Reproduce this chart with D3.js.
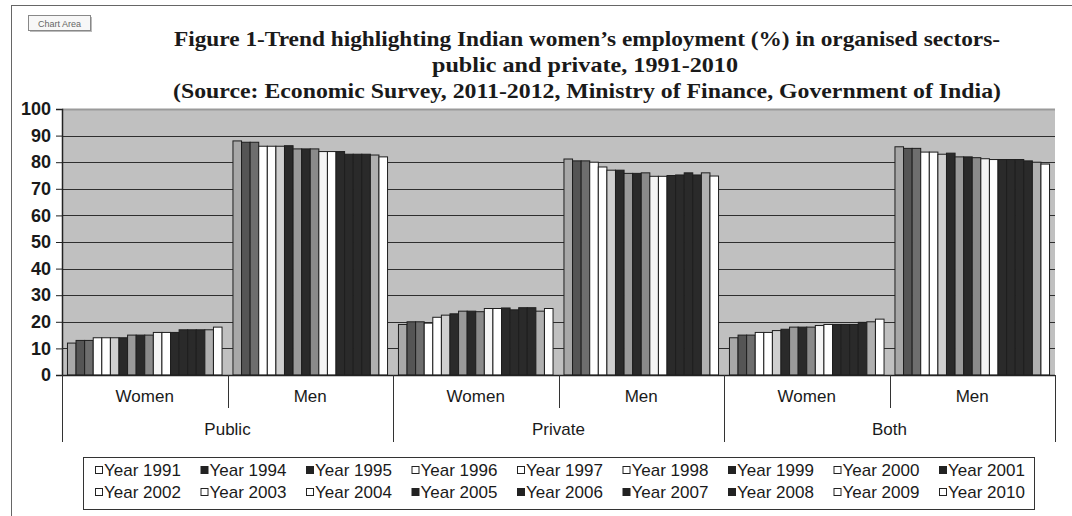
<!DOCTYPE html>
<html><head><meta charset="utf-8">
<script src="https://cdn.jsdelivr.net/npm/d3@7/dist/d3.min.js"></script>
<style>body{margin:0;background:#fff}svg{display:block}</style>
</head><body><svg id="c" width="1072" height="516"></svg>
<script>
// ---- data ----
const years = ["1991","1994","1995","1996","1997","1998","1999","2000","2001","2002","2003","2004","2005","2006","2007","2008","2009","2010"];
const sectors = ["Public","Private","Both"];
const genders = ["Women","Men"];
const publicWomen  = [12,13,13,14,14,14,14,15,15,15,16,16,16,17,17,17,17,18];
const publicMen    = [88,87.5,87.5,86,86,86,86.2,85,85,85,84,84,84,83,83,83,82.7,82];
const privateWomen = [19,20,20,19.5,21.7,22.5,23,24,24,23.8,25,25,25.2,24.5,25.3,25.3,24,25];
const privateMen   = [81.2,80.5,80.5,80,78.2,77,77,75.8,75.8,76,74.7,74.7,75,75.2,76,75.2,76,74.8];
const bothWomen    = [14,15,15,16,16,16.7,17.2,18,18,18,18.6,19,19,19,19,19.8,20,21];
const bothMen      = [85.8,85.2,85.2,83.8,83.8,83,83.4,82,82,81.7,81.3,81,81,81,81,80.5,80,79.3];
const yTicks = [0,10,20,30,40,50,60,70,80,90,100];
const titleLines = [
  "Figure 1-Trend highlighting Indian women\u2019s employment (%) in organised sectors-",
  "public and private, 1991-2010",
  "(Source: Economic Survey, 2011-2012, Ministry of Finance, Government of India)"
];

// ---- styles ----
const barColors = ["#a8a8a8","#555555","#6e6e6e","#ffffff","#ffffff","#cfcfcf","#2a2a2a","#9a9a9a","#2a2a2a","#8a8a8a","#f4f4f4","#ffffff","#2a2a2a","#2a2a2a","#2a2a2a","#2a2a2a","#b0b0b0","#ffffff"];
const legendDark = new Set(["1994","1995","1999","2001","2005","2006","2007","2008"]);
const titleWidths = [826, 306, 828];

const categories = [];
const seriesByCat = {
  "Public|Women": publicWomen, "Public|Men": publicMen,
  "Private|Women": privateWomen, "Private|Men": privateMen,
  "Both|Women": bothWomen, "Both|Men": bothMen
};
sectors.forEach(s => genders.forEach(g => categories.push(s + "|" + g)));

const svg = d3.select("#c");
const W = 1072, H = 516;
const plotL = 62, plotR = 1055, plotT = 109, plotB = 375;

// outer border
svg.append("line").attr("x1",11.5).attr("x2",11.5).attr("y1",5).attr("y2",H).attr("stroke","#666");
svg.append("line").attr("x1",11).attr("x2",W).attr("y1",5.5).attr("y2",5.5).attr("stroke","#666");

// Chart Area tag
svg.append("rect").attr("x",30).attr("y",17).attr("width",62).attr("height",15).attr("fill","#bbb");
svg.append("rect").attr("x",28.5).attr("y",15.5).attr("width",62).attr("height",15).attr("fill","#f7f7f7").attr("stroke","#888");
svg.append("text").attr("x",59.5).attr("y",26.5).attr("text-anchor","middle")
  .attr("font-family","Liberation Sans, Arial, sans-serif").attr("font-size",9).attr("fill","#666").text("Chart Area");

// title
svg.append("g").selectAll("text").data(titleLines).join("text")
  .attr("x",(d,i)=> i===1 ? 585 : 587).attr("y",(d,i)=>46 + i*25.8).attr("text-anchor","middle")
  .attr("font-family","Liberation Serif, Times New Roman, serif").attr("font-weight","bold")
  .attr("font-size",21).attr("fill","#1a1a1a")
  .attr("textLength",(d,i)=>titleWidths[i]).attr("lengthAdjust","spacingAndGlyphs")
  .text(d=>d);

// scales
const x0 = d3.scaleBand().domain(categories).range([plotL, plotR]).paddingInner(0.066).paddingOuter(0.033);
const x1 = d3.scaleBand().domain(years).range([0, x0.bandwidth()]);
const y = d3.scaleLinear().domain([0,100]).range([plotB, plotT]);

// plot background
svg.append("rect").attr("x",plotL).attr("y",plotT).attr("width",plotR-plotL).attr("height",plotB-plotT).attr("fill","#c0c0c0");

// gridlines
svg.append("g").selectAll("line").data(yTicks.filter(t=>t>0)).join("line")
  .attr("x1",plotL).attr("x2",plotR).attr("y1",d=>Math.round(y(d))+0.5).attr("y2",d=>Math.round(y(d))+0.5)
  .attr("stroke",d=>d===100?"#9a9a9a":"#2e2e2e").attr("stroke-width",d=>d===100?2:1.2);

// bars
const gCat = svg.append("g").selectAll("g").data(categories).join("g")
  .attr("transform",d=>`translate(${x0(d)},0)`);
gCat.selectAll("rect").data(c => years.map((yr,i)=>({yr, i, v: seriesByCat[c][i]}))).join("rect")
  .attr("x",d=>x1(d.yr)).attr("width",x1.bandwidth())
  .attr("y",d=>y(d.v)).attr("height",d=>y(0)-y(d.v))
  .attr("fill",d=>barColors[d.i]).attr("stroke","#1e1e1e").attr("stroke-width",1);

// y axis
const yAxis = d3.axisLeft(y).tickValues(yTicks).tickSize(6).tickPadding(5).tickFormat(d3.format("d"));
const ya = svg.append("g").attr("transform",`translate(${plotL},0)`).call(yAxis);
ya.select(".domain").attr("stroke","#222").attr("stroke-width",1.5);
ya.selectAll(".tick line").attr("stroke","#222");
ya.selectAll(".tick text").attr("font-family","Liberation Sans, Arial, sans-serif").attr("font-size",18)
  .attr("fill","#1a1a1a").attr("font-weight","bold");

// x axis baseline
svg.append("line").attr("x1",plotL).attr("x2",plotR).attr("y1",plotB+0.5).attr("y2",plotB+0.5).attr("stroke","#222").attr("stroke-width",1.5);

// multi-level category axis
const step = x0.step();
const boundary = i => x0(categories[0]) - step*0.033 + i*step;
const seps = d3.range(0, categories.length+1);
svg.append("g").selectAll("line").data(seps).join("line")
  .attr("x1",i=>Math.round(boundary(i))+0.5).attr("x2",i=>Math.round(boundary(i))+0.5)
  .attr("y1",plotB).attr("y2",i=> i%2===0 ? 442 : 408)
  .attr("stroke","#333").attr("stroke-width",1);
svg.append("g").selectAll("text").data(categories).join("text")
  .attr("x",d=>x0(d)+x0.bandwidth()/2).attr("y",402).attr("text-anchor","middle")
  .attr("font-family","Liberation Sans, Arial, sans-serif").attr("font-size",17).attr("fill","#1a1a1a")
  .text(d=>d.split("|")[1]);
svg.append("g").selectAll("text").data(sectors).join("text")
  .attr("x",(d,i)=>(boundary(2*i)+boundary(2*i+2))/2).attr("y",435).attr("text-anchor","middle")
  .attr("font-family","Liberation Sans, Arial, sans-serif").attr("font-size",17).attr("fill","#1a1a1a")
  .text(d=>d);

// legend
const lg = svg.append("g");
lg.append("rect").attr("x",83.5).attr("y",457.5).attr("width",951).attr("height",52).attr("fill","#fff").attr("stroke","#333");
const items = lg.selectAll("g").data(years).join("g")
  .attr("transform",(d,i)=>`translate(${95 + (i%9)*105.5},${i<9?476:498})`);
items.append("rect").attr("x",0.5).attr("y",-9.5).attr("width",7).attr("height",7)
  .attr("fill",d=>legendDark.has(d)?"#222":"#fff").attr("stroke","#222");
items.append("text").attr("x",9).attr("y",0)
  .attr("font-family","Liberation Sans, Arial, sans-serif").attr("font-size",17).attr("fill","#1a1a1a")
  .text(d=>"Year " + d);
</script></body></html>
